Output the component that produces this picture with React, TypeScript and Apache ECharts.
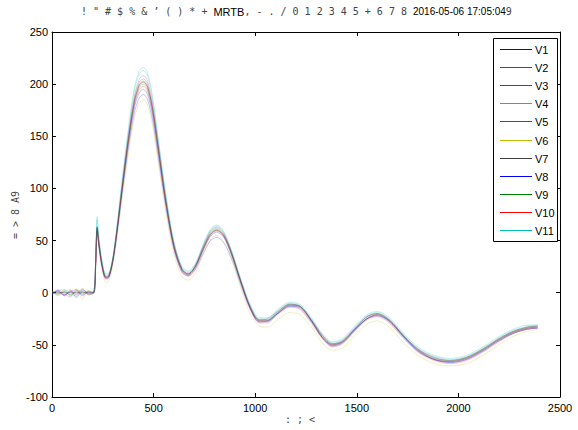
import React, { useEffect, useRef } from 'react';
import * as echarts from 'echarts';

const X = [0, 30, 60, 90, 120, 150, 180, 205, 215, 222, 232, 248, 265, 280, 300, 320, 345, 375, 405, 430, 450, 470, 495, 525, 560, 600, 640, 670, 705, 745, 780, 810, 845, 885, 930, 975, 1020, 1060, 1110, 1170, 1220, 1280, 1330, 1380, 1430, 1490, 1550, 1600, 1660, 1730, 1800, 1880, 1960, 2040, 2120, 2200, 2270, 2340, 2390];

const V1 = [0, 2, -3, 1, -2, 3, -1, 0, 25, 58, 42, 22, 13, 14, 30, 56, 94, 137, 172, 187, 190, 185, 165, 127, 82, 41, 19, 16, 22, 38, 50, 53, 48, 32, 7, -16, -28, -28, -20, -13, -15, -29, -43, -51, -48, -36, -25, -22, -28, -43, -56, -64, -67, -64, -56, -46, -39, -35, -34];
const V2 = [1, -2, 2, -3, 1, -1, 2, 0, 32, 64, 46, 26, 15, 17, 33, 61, 102, 148, 186, 202, 205, 200, 178, 138, 90, 46, 23, 18, 26, 44, 58, 62, 56, 38, 11, -13, -26, -26, -18, -11, -13, -27, -41, -49, -46, -34, -23, -20, -26, -41, -54, -62, -65, -62, -54, -44, -37, -33, -32];
const V3 = [-1, 1, -2, 2, -4, 1, 0, 1, 28, 60, 44, 24, 14, 15, 32, 59, 99, 143, 179, 195, 198, 193, 172, 133, 86, 44, 21, 17, 25, 42, 56, 60, 54, 36, 10, -14, -27, -27, -19, -12, -14, -28, -42, -50, -47, -35, -24, -21, -27, -42, -55, -63, -66, -63, -55, -45, -38, -34, -33];
const V4 = [2, -3, 1, 3, -5, 2, -2, 0, 35, 70, 50, 28, 17, 18, 34, 63, 106, 153, 193, 210, 213, 208, 185, 143, 93, 48, 24, 20, 27, 46, 60, 64, 58, 39, 12, -12, -25, -25, -17, -10, -12, -26, -40, -48, -45, -33, -22, -19, -25, -40, -53, -61, -64, -61, -53, -43, -36, -32, -31];
const V5 = [-2, 3, -1, -4, 2, -2, 1, 0, 30, 63, 46, 25, 15, 16, 33, 62, 104, 150, 188, 205, 208, 203, 181, 140, 91, 47, 23, 19, 26, 45, 59, 63, 57, 38, 11, -13, -26, -25, -18, -11, -13, -27, -41, -49, -46, -34, -23, -20, -26, -41, -54, -62, -65, -62, -54, -44, -37, -33, -32];
const V6 = [1, -1, 3, -2, 4, -6, 2, -1, 22, 55, 40, 20, 10, 11, 27, 52, 90, 132, 167, 182, 185, 180, 160, 122, 77, 37, 15, 12, 19, 37, 51, 55, 49, 31, 4, -20, -32, -33, -26, -19, -21, -34, -48, -55, -53, -41, -30, -27, -33, -48, -60, -68, -70, -68, -60, -50, -42, -37, -35];
const V7 = [0, 0, 0, 0, 0, 0, 0, 0, 30, 62, 45, 25, 15, 16, 32, 60, 100, 146, 183, 199, 202, 197, 176, 136, 88, 45, 22, 18, 25, 43, 56, 60, 55, 37, 10, -14, -27, -27, -20, -12, -13, -28, -43, -50, -47, -35, -25, -21, -27, -42, -55, -64, -66, -63, -55, -45, -38, -34, -33];
const V8 = [-1, 2, -2, 1, 3, -3, 1, 0, 27, 60, 43, 24, 14, 15, 31, 58, 97, 141, 177, 192, 195, 190, 170, 131, 85, 43, 21, 17, 24, 41, 54, 58, 53, 35, 9, -15, -28, -27, -20, -13, -14, -28, -43, -51, -48, -36, -25, -22, -27, -42, -56, -64, -67, -64, -56, -46, -39, -35, -34];
const V9 = [0, -1, 1, -2, 2, 1, -1, 0, 31, 63, 46, 26, 16, 17, 32, 60, 100, 144, 181, 197, 200, 195, 174, 134, 87, 45, 22, 18, 25, 43, 57, 61, 55, 37, 10, -14, -26, -26, -19, -11, -13, -27, -41, -49, -47, -35, -23, -20, -26, -41, -54, -63, -65, -62, -54, -44, -37, -33, -32];
const V10 = [1, 1, -3, 2, -1, 4, -2, 0, 29, 61, 44, 24, 14, 15, 31, 59, 99, 145, 183, 200, 203, 198, 177, 136, 87, 43, 20, 16, 23, 41, 55, 59, 54, 36, 9, -15, -29, -29, -21, -14, -16, -30, -44, -52, -49, -37, -26, -23, -29, -44, -57, -65, -68, -65, -57, -47, -39, -35, -34];
const V11 = [-2, 2, 3, -1, -3, 2, 1, 0, 36, 73, 52, 29, 18, 19, 35, 65, 108, 156, 196, 213, 216, 211, 188, 145, 95, 49, 25, 21, 28, 47, 61, 65, 59, 40, 13, -11, -24, -24, -16, -9, -11, -25, -39, -47, -44, -32, -21, -18, -24, -39, -52, -60, -63, -60, -52, -42, -35, -31, -31];

const SERIES_NAMES = ['V1', 'V2', 'V3', 'V4', 'V5', 'V6', 'V7', 'V8', 'V9', 'V10', 'V11'];
const SERIES_VALUES = [V1, V2, V3, V4, V5, V6, V7, V8, V9, V10, V11];
const COLORS = ['#0000ff', '#008000', '#ff0000', '#00bfbf', '#bf00bf', '#bfbf00', '#404040', '#0000ff', '#008000', '#ff0000', '#00bfbf'];
const LINE_COLORS = [
  'rgba(0,0,255,0.4)', 'rgba(0,128,0,0.4)', 'rgba(255,0,0,0.4)', 'rgba(0,191,191,0.4)',
  'rgba(191,0,191,0.4)', 'rgba(191,191,0,0.4)', 'rgba(64,64,64,0.75)', 'rgba(0,0,255,0.4)',
  'rgba(0,128,0,0.4)', 'rgba(255,0,0,0.4)', 'rgba(0,191,191,0.4)',
];

const X_MIN = 0, X_MAX = 2500, X_STEP = 500;
const Y_MIN = -100, Y_MAX = 250, Y_STEP = 50;

const TITLE_GARBLED_1 = '! " # $ % & \u2019 ( ) * + ';
const TITLE_BOLD = 'MRTB';
const TITLE_GARBLED_2 = ', - . / 0 1 2 3 4 5 + 6 7 8 ';
const TITLE_DATE = '2016-05-06 17:05:04';
const TITLE_TAIL = '9';
const Y_LABEL = '= > 8 A9';
const X_LABEL = ': ; <';

const SANS = 'Liberation Sans, Arial, sans-serif';
const MONO = 'DejaVu Sans Mono, monospace';

// legend box layout (pixels)
const LEG_X = 493.5, LEG_Y = 38.5, LEG_W = 64, LEG_H = 203;
const LEG_FIRST = 49.5, LEG_STEP = 18.1;

export default function App() {
  const ref = useRef<HTMLDivElement>(null);
  useEffect(() => {
    document.body.style.margin = '0';
    if (!ref.current) return;
    const chart = echarts.init(ref.current, undefined, { renderer: 'svg' });
    const axisCommon = {
      type: 'value' as const,
      axisLine: { show: true, onZero: false, lineStyle: { color: '#000', width: 1 } },
      axisTick: { show: true, inside: true, length: 4, lineStyle: { color: '#000' } },
      splitLine: { show: false },
    };
    const plain = (v: number) => String(v);

    const legendItems: any[] = [];
    SERIES_NAMES.forEach((n, i) => {
      const y = Math.floor(LEG_FIRST + LEG_STEP * i) + 0.5;
      legendItems.push({
        type: 'line',
        shape: { x1: 500, y1: y, x2: 532, y2: y },
        style: { stroke: COLORS[i], lineWidth: 1 },
        z: 101,
      });
      legendItems.push({
        type: 'text',
        x: 535,
        y: y,
        style: { text: n, fontFamily: SANS, fontSize: 11, fill: '#000', verticalAlign: 'middle', align: 'left' },
        z: 101,
      });
    });

    chart.setOption({
      animation: false,
      backgroundColor: '#fff',
      grid: { left: 52, top: 32, width: 508, height: 365, show: false },
      xAxis: [
        { ...axisCommon, min: X_MIN, max: X_MAX, interval: X_STEP, position: 'bottom',
          axisLabel: { color: '#000', fontSize: 11, fontFamily: SANS, margin: 5, formatter: plain } },
        { ...axisCommon, min: X_MIN, max: X_MAX, interval: X_STEP, position: 'top',
          axisLabel: { show: false } },
      ],
      yAxis: [
        { ...axisCommon, min: Y_MIN, max: Y_MAX, interval: Y_STEP, position: 'left',
          axisLabel: { color: '#000', fontSize: 11, fontFamily: SANS, margin: 4, formatter: plain } },
        { ...axisCommon, min: Y_MIN, max: Y_MAX, interval: Y_STEP, position: 'right',
          axisLabel: { show: false } },
      ],
      legend: { show: false },
      graphic: [
        {
          type: 'rect',
          shape: { x: LEG_X, y: LEG_Y, width: LEG_W, height: LEG_H },
          style: { fill: '#fff', stroke: '#000', lineWidth: 1 },
          z: 100,
        },
        ...legendItems,
        {
          type: 'text',
          left: 81,
          top: 6,
          style: {
            text: `{g|${TITLE_GARBLED_1}}{b|${TITLE_BOLD}}{g|${TITLE_GARBLED_2}}{d|${TITLE_DATE}}{g|${TITLE_TAIL}}`,
            rich: {
              g: { fontFamily: MONO, fontSize: 10, fill: '#444' },
              b: { fontFamily: SANS, fontSize: 11, fill: '#000' },
              d: { fontFamily: SANS, fontSize: 10, fill: '#000' },
            },
          },
        },
        {
          type: 'text',
          x: 15,
          y: 215,
          rotation: Math.PI / 2,
          style: {
            text: Y_LABEL,
            fontFamily: MONO,
            fontSize: 10,
            fill: '#444',
            align: 'center',
            verticalAlign: 'middle',
          },
        },
        {
          type: 'text',
          x: 300,
          y: 419,
          style: {
            text: X_LABEL,
            fontFamily: MONO,
            fontSize: 10,
            fill: '#444',
            align: 'center',
            verticalAlign: 'middle',
          },
        },
      ],
      series: SERIES_VALUES.map((vals, si) => ({
        name: SERIES_NAMES[si],
        type: 'line',
        xAxisIndex: 0,
        yAxisIndex: 0,
        data: X.map((x, i) => [x, vals[i]]),
        symbol: 'none',
        showSymbol: false,
        smooth: 0.3,
        itemStyle: { color: COLORS[si] },
        lineStyle: { color: LINE_COLORS[si], width: 0.6 },
        emphasis: { disabled: true },
      })),
    });
    return () => chart.dispose();
  }, []);
  return <div ref={ref} style={{ width: 578, height: 430 }} />;
}
